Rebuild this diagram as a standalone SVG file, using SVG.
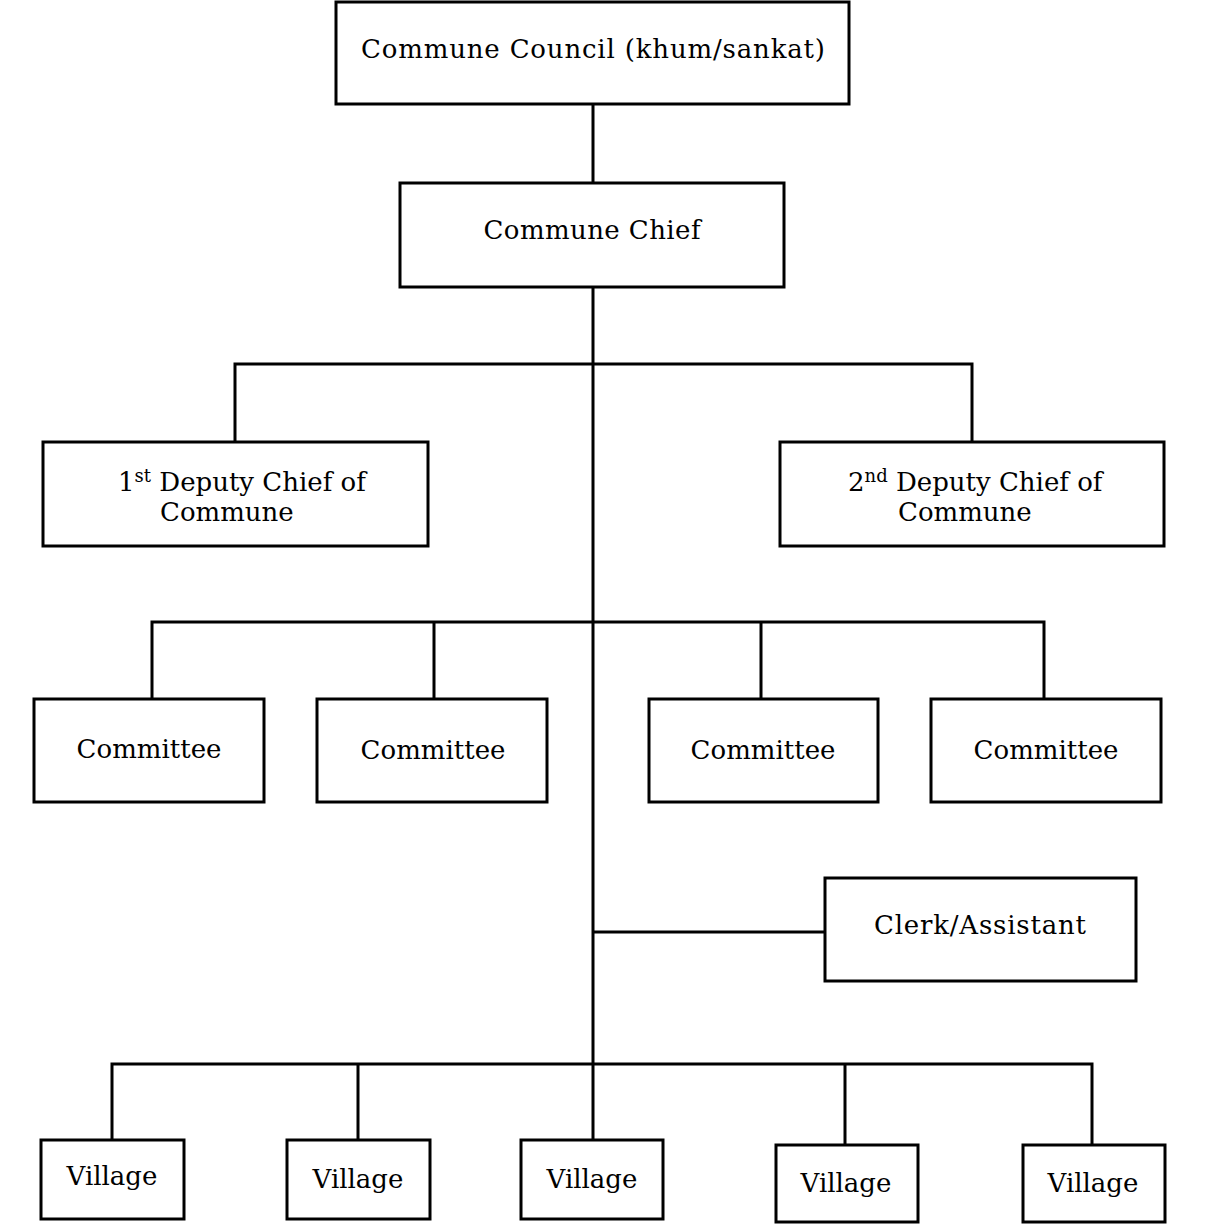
<svg xmlns="http://www.w3.org/2000/svg" width="1213" height="1225" viewBox="0 0 1213 1225">
<style>
.box{fill:#fff;stroke:#000;stroke-width:3}
.ln{stroke:#000;stroke-width:3;fill:none}
text{font-family:"DejaVu Serif","Liberation Serif",serif;font-size:26px;fill:#000}
.c{text-anchor:middle}
.sup{font-size:18px}
</style>
<rect width="1213" height="1225" fill="#fff"/>
<g id="connectors">
<path class="ln" d="M593,104V183M593,287V1140M235,442V364H972V442M152,699V622H1044V699M434,622V699M761,622V699M593,932H824M112,1140V1064H1092V1145M358,1064V1140M845,1064V1145"/>
</g>
<g id="council"><rect class="box" x="336" y="2" width="513" height="102"/><text class="c" x="593" y="58" textLength="464" lengthAdjust="spacing">Commune Council (khum/sankat)</text></g>
<g id="chief"><rect class="box" x="400" y="183" width="384" height="104"/><text class="c" x="592" y="239" textLength="217" lengthAdjust="spacing">Commune Chief</text></g>
<g id="deputy1"><rect class="box" x="43" y="442" width="385" height="104"/><text x="118" y="491">1<tspan class="sup" dy="-9">st</tspan><tspan dy="9"> Deputy Chief of</tspan></text><text x="160" y="521">Commune</text></g>
<g id="deputy2"><rect class="box" x="780" y="442" width="384" height="104"/><text x="848" y="491">2<tspan class="sup" dy="-9">nd</tspan><tspan dy="9"> Deputy Chief of</tspan></text><text x="898" y="521">Commune</text></g>
<g id="committee1"><rect class="box" x="34" y="699" width="230" height="103"/><text class="c" x="149" y="758">Committee</text></g>
<g id="committee2"><rect class="box" x="317" y="699" width="230" height="103"/><text class="c" x="433" y="759">Committee</text></g>
<g id="committee3"><rect class="box" x="649" y="699" width="229" height="103"/><text class="c" x="763" y="759">Committee</text></g>
<g id="committee4"><rect class="box" x="931" y="699" width="230" height="103"/><text class="c" x="1046" y="759">Committee</text></g>
<g id="clerk"><rect class="box" x="825" y="878" width="311" height="103"/><text class="c" x="980" y="934" textLength="212" lengthAdjust="spacing">Clerk/Assistant</text></g>
<g id="village1"><rect class="box" x="41" y="1140" width="143" height="79"/><text class="c" x="112" y="1185">Village</text></g>
<g id="village2"><rect class="box" x="287" y="1140" width="143" height="79"/><text class="c" x="358" y="1188">Village</text></g>
<g id="village3"><rect class="box" x="521" y="1140" width="142" height="79"/><text class="c" x="592" y="1188">Village</text></g>
<g id="village4"><rect class="box" x="776" y="1145" width="142" height="77"/><text class="c" x="846" y="1192">Village</text></g>
<g id="village5"><rect class="box" x="1023" y="1145" width="142" height="77"/><text class="c" x="1093" y="1192">Village</text></g>
</svg>
